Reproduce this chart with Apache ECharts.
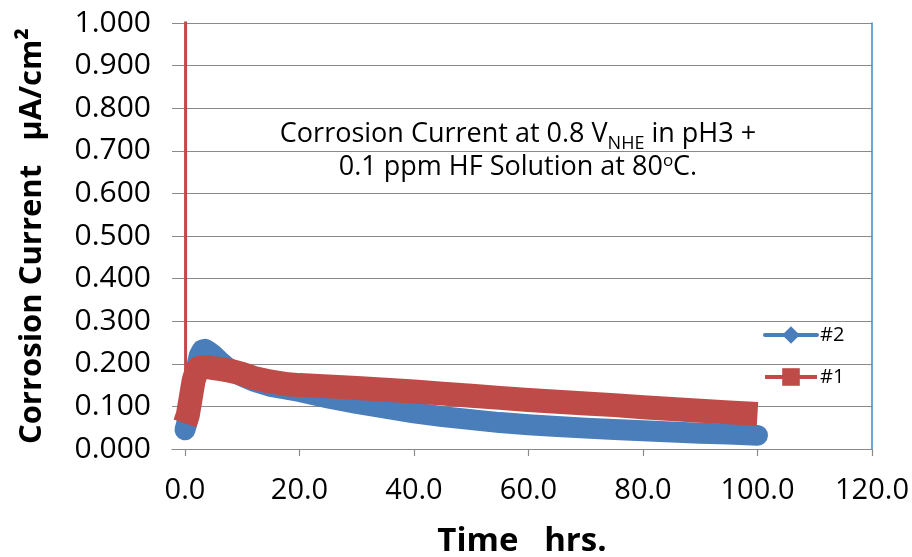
<!DOCTYPE html>
<html>
<head>
<meta charset="utf-8">
<script src="https://cdn.jsdelivr.net/npm/echarts@6/dist/echarts.min.js"></script>
<style>html,body{margin:0;padding:0;background:#fff}#c{width:912px;height:557px}</style>
</head>
<body>
<div id="c"></div>
<script>
// Series #2 (blue, diamonds): time (hrs) and corrosion current (uA/cm2)
var blueT = [0,0.5,1,1.5,2,2.5,3,3.5,4,5,6,7,8,9,10,12,15,18,20,25,30,35,40,45,50,55,60,65,70,75,80,85,90,95,100];
var blueV = [0.045,0.07,0.11,0.15,0.19,0.22,0.232,0.234,0.23,0.22,0.207,0.195,0.186,0.178,0.171,0.159,0.147,0.14,0.135,0.12,0.107,0.096,0.085,0.076,0.069,0.062,0.057,0.053,0.049,0.046,0.043,0.04,0.037,0.035,0.032];
// Series #1 (red, squares)
var redT = [0,0.5,1,1.5,2,2.5,3,4,5,6,7,8,9,10,12,15,18,20,25,30,35,40,45,50,55,60,65,70,75,80,85,90,95,100];
var redV = [0.06,0.08,0.12,0.16,0.182,0.19,0.192,0.192,0.19,0.188,0.186,0.183,0.18,0.176,0.167,0.158,0.152,0.15,0.147,0.143,0.139,0.135,0.13,0.125,0.12,0.115,0.111,0.107,0.103,0.098,0.094,0.09,0.086,0.082];
// Initial spike of series #1 (goes off scale)
var spikeT = [0.1,0.1];
var spikeV = [0.06,1.2];
var xTicks = [0,20,40,60,80,100,120];
var seriesNames = ['#2','#1'];

function pairs(t, v){ return t.map(function(x,i){ return [x, v[i]]; }); }

var chart = echarts.init(document.getElementById('c'));
var font = '"Open Sans", sans-serif';
chart.setOption({
  animation: false,
  backgroundColor: '#ffffff',
  grid: { left: 172, right: 40, top: 23, bottom: 108, containLabel: false, outerBoundsMode: 'none' },
  title: {
    left: 513, top: 110, textAlign: 'center',
    text: '{a|Corrosion Current at 0.8 V}{sub|NHE}{a| in pH3 +}\n{b|0.1 ppm HF Solution at 80}{sup|o}{b|C.}',
    textStyle: {
      fontWeight: 'normal',
      rich: {
        a: { fontFamily: font, fontSize: 27, fontWeight: 'normal', color: '#000', lineHeight: 38 },
        sub: { fontFamily: font, fontSize: 18, fontWeight: 'normal', color: '#000', lineHeight: 20, verticalAlign: 'bottom' },
        b: { fontFamily: font, fontSize: 27, fontWeight: 'normal', color: '#000', lineHeight: 28 },
        sup: { fontFamily: font, fontSize: 17, fontWeight: 'normal', color: '#000', verticalAlign: 'top', lineHeight: 16 }
      }
    }
  },
  legend: {
    data: seriesNames,
    orient: 'vertical',
    left: 758, top: 320,
    itemWidth: 52, itemHeight: 22, itemGap: 22,
    lineStyle: { width: 4 },
    textStyle: { fontFamily: font, fontSize: 20, color: '#000', padding: [0,0,0,-2] }
  },
  xAxis: {
    type: 'value', min: -2.27, max: 120,
    name: 'Time   hrs.', nameLocation: 'middle', nameGap: 76,
    nameTextStyle: { fontFamily: font, fontSize: 33, fontWeight: 'bold', color: '#000' },
    axisLine: { show: true, onZero: false, lineStyle: { color: '#8a8a8a', width: 1.2 } },
    axisTick: { show: true, customValues: xTicks, length: 7, lineStyle: { color: '#8a8a8a', width: 1.2 } },
    axisLabel: { customValues: xTicks, margin: 27, fontFamily: font, fontSize: 29, color: '#000',
      formatter: function(v){ return v.toFixed(1); } },
    splitLine: { show: false }
  },
  yAxis: [{
    type: 'value', min: 0, max: 1, interval: 0.1,
    name: 'Corrosion Current   μA/cm²', nameLocation: 'middle', nameGap: 124, nameRotate: 90,
    nameTextStyle: { fontFamily: font, fontSize: 31, fontWeight: 'bold', color: '#000' },
    axisLine: { show: false }, axisTick: { show: false },
    axisLabel: { margin: 21, fontFamily: font, fontSize: 30, color: '#000',
      formatter: function(v){ return v.toFixed(3); } },
    splitLine: { show: true, lineStyle: { color: '#8a8a8a', width: 1.2 } }
  }, {
    type: 'value', min: 0, max: 1, position: 'right',
    axisLine: { show: true, lineStyle: { color: '#3f86c2', width: 1.5 } },
    axisTick: { show: false }, axisLabel: { show: false }, splitLine: { show: false }
  }],
  series: [{
    name: seriesNames[0], type: 'line', data: pairs(blueT, blueV),
    symbol: 'diamond', showSymbol: false, smooth: false,
    color: '#4a7ebb',
    lineStyle: { width: 21, color: '#4a7ebb', join: 'round', cap: 'round' }
  }, {
    name: seriesNames[1], type: 'line', data: pairs(redT, redV),
    symbol: 'rect', showSymbol: false,
    color: '#be4b48',
    lineStyle: { width: 24, color: '#be4b48', join: 'miter', cap: 'butt' }
  }, {
    name: 'spike', type: 'line', data: pairs(spikeT, spikeV),
    symbol: 'none', color: '#be4b48', clip: true,
    lineStyle: { width: 3, color: '#be4b48' }, z: 3
  }]
});
</script>
</body>
</html>
